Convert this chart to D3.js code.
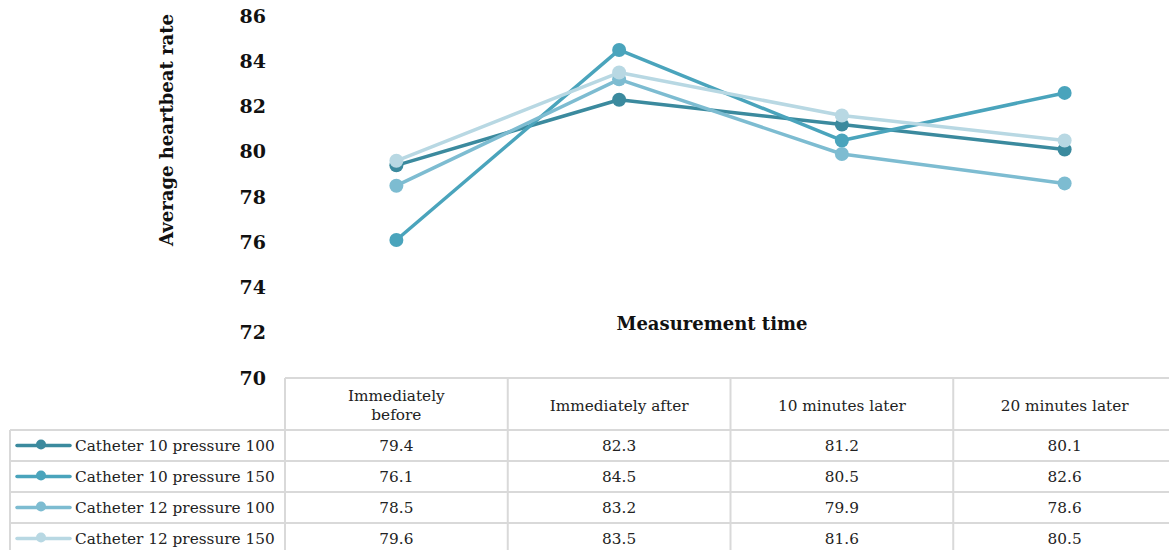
<!DOCTYPE html>
<html>
<head>
<meta charset="utf-8">
<script src="https://cdn.jsdelivr.net/npm/d3@7"></script>
<style>
  html, body { margin: 0; padding: 0; background: #fff; }
  svg { display: block; }
</style>
</head>
<body>
<svg id="chart" width="1169" height="550"></svg>
<script>
const categories = ["Immediately before", "Immediately after", "10 minutes later", "20 minutes later"];
const seriesNames = ["Catheter 10 pressure 100", "Catheter 10 pressure 150", "Catheter 12 pressure 100", "Catheter 12 pressure 150"];
const cath10p100 = [79.4, 82.3, 81.2, 80.1];
const cath10p150 = [76.1, 84.5, 80.5, 82.6];
const cath12p100 = [78.5, 83.2, 79.9, 78.6];
const cath12p150 = [79.6, 83.5, 81.6, 80.5];
const yTicks = [70, 72, 74, 76, 78, 80, 82, 84, 86];
const colors = ["#3b8a9e", "#4aa4bc", "#7dbcd1", "#b8d8e3"];

const seriesValues = [cath10p100, cath10p150, cath12p100, cath12p150];
const series = seriesNames.map((name, i) => ({ name, values: seriesValues[i], color: colors[i] }));

const svg = d3.select("#chart");
const serif = "'DejaVu Serif', 'Liberation Serif', serif";
const tfs = 15.3;

// scales
const x = d3.scaleBand().domain(categories).range([285, 1176]).padding(0);
const y = d3.scaleLinear().domain([70, 86]).range([378, 16]);

// table geometry
const headerTop = 378, headerBottom = 430, rowH = 31;
const legendLeft = 10;
const gridColor = "#d9d9d9";

const grid = svg.append("g").attr("stroke", gridColor).attr("stroke-width", 2).attr("fill", "none");
grid.append("line").attr("x1", 285).attr("x2", 1176).attr("y1", headerTop).attr("y2", headerTop);
for (let i = 0; i <= series.length; i++) {
  const yy = headerBottom + i * rowH;
  grid.append("line").attr("x1", legendLeft).attr("x2", 1176).attr("y1", yy).attr("y2", yy);
}
grid.append("line").attr("x1", legendLeft).attr("x2", legendLeft).attr("y1", headerBottom).attr("y2", headerBottom + rowH * series.length);
categories.forEach(c => {
  grid.append("line").attr("x1", x(c)).attr("x2", x(c)).attr("y1", headerTop).attr("y2", headerBottom + rowH * series.length);
});
grid.append("line").attr("x1", 1176).attr("x2", 1176).attr("y1", headerTop).attr("y2", headerBottom + rowH * series.length);

// header labels
const hdr = svg.append("g").attr("font-family", serif).attr("font-size", tfs).attr("fill", "#222").attr("text-anchor", "middle");
categories.forEach(c => {
  const cx = x(c) + x.bandwidth() / 2;
  if (c === "Immediately before") {
    const t = hdr.append("text").attr("x", cx).attr("y", 401);
    t.append("tspan").attr("x", cx).text("Immediately");
    t.append("tspan").attr("x", cx).attr("dy", 19).text("before");
  } else {
    hdr.append("text").attr("x", cx).attr("y", 411).text(c);
  }
});

// rows
series.forEach((s, i) => {
  const rowTop = headerBottom + i * rowH;
  const cy = rowTop + rowH / 2;
  const g = svg.append("g");
  g.append("line").attr("x1", 17).attr("x2", 70).attr("y1", cy).attr("y2", cy)
    .attr("stroke", s.color).attr("stroke-width", 3.5).attr("stroke-linecap", "round");
  g.append("circle").attr("cx", 41).attr("cy", cy - 1).attr("r", 5).attr("fill", s.color);
  g.append("text").attr("x", 75).attr("y", cy + 5.5).attr("font-family", serif).attr("font-size", tfs)
    .attr("fill", "#222").text(s.name);
  s.values.forEach((v, j) => {
    g.append("text").attr("x", x(categories[j]) + x.bandwidth() / 2).attr("y", cy + 5.5)
      .attr("text-anchor", "middle").attr("font-family", serif).attr("font-size", tfs)
      .attr("fill", "#222").text(v.toFixed(1));
  });
});

// y axis (labels only)
const yAxis = d3.axisLeft(y).tickValues(yTicks).tickSize(0).tickPadding(0).tickFormat(d3.format("d"));
const yg = svg.append("g").attr("transform", "translate(266,0)").call(yAxis);
yg.select(".domain").remove();
yg.selectAll("text").attr("font-family", serif).attr("font-weight", "bold").attr("font-size", 19).attr("fill", "#111");

// axis titles
svg.append("text").attr("transform", "translate(173,130) rotate(-90)").attr("text-anchor", "middle")
  .attr("font-family", serif).attr("font-weight", "bold").attr("font-size", 18).attr("fill", "#111")
  .text("Average heartbeat rate");
svg.append("text").attr("x", 712).attr("y", 330).attr("text-anchor", "middle")
  .attr("font-family", serif).attr("font-weight", "bold").attr("font-size", 18).attr("fill", "#111")
  .text("Measurement time");

// lines
const line = d3.line().x((d, j) => x(categories[j]) + x.bandwidth() / 2).y(d => y(d));
const plot = svg.append("g");
series.forEach(s => {
  const g = plot.append("g");
  g.append("path").datum(s.values).attr("d", line).attr("fill", "none")
    .attr("stroke", s.color).attr("stroke-width", 3.5).attr("stroke-linejoin", "round");
  g.selectAll("circle").data(s.values).join("circle")
    .attr("cx", (d, j) => x(categories[j]) + x.bandwidth() / 2).attr("cy", d => y(d))
    .attr("r", 7).attr("fill", s.color);
});
</script>
</body>
</html>
